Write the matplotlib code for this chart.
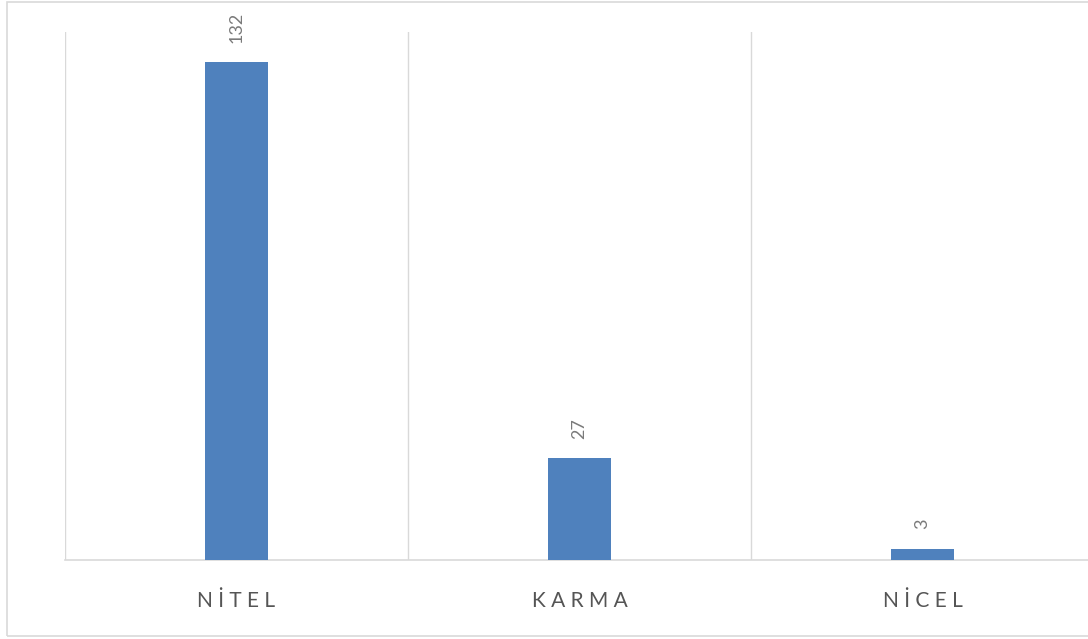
import matplotlib.pyplot as plt
import numpy as np
from matplotlib.patches import Rectangle

categories = ['NİTEL', 'KARMA', 'NİCEL']
counts = [132, 27, 3]

plt.rcParams['font.family'] = ['Lato', 'DejaVu Sans']

fig = plt.figure(figsize=(10.88, 6.39), dpi=100)
# light frame around the chart area (right edge runs off the image)
fig.patches.append(Rectangle((7 / 1088, 3 / 639), 1.2, 634 / 639, transform=fig.transFigure,
                             fill=False, edgecolor='#d9d9d9', linewidth=1.2))

ax = fig.add_axes([65 / 1088, 79 / 639, 1029 / 1088, 528 / 639])
x = np.arange(len(categories))
bars = ax.bar(x, counts, width=0.184, color='#4f81bd', zorder=3)

for b, v in zip(bars, counts):
    ax.annotate(str(v), (b.get_x() + b.get_width() / 2, v), xytext=(0, 14),
                textcoords='offset points', rotation=90, ha='center', va='bottom',
                fontsize=13, color='#7a7a7a')

ax.set_xlim(-0.5, 2.5)
ax.set_ylim(0, 140)
ax.set_yticks([])
ax.set_xticks(x)
spaced = [' '.join(c) for c in categories]
ax.set_xticklabels(spaced, fontsize=15, color='#555555')
ax.tick_params(axis='x', length=0, pad=22)
ax.set_xticks(np.arange(-0.5, 3, 1), minor=True)
ax.tick_params(axis='x', which='minor', length=0)
ax.grid(True, which='minor', axis='x', color='#d9d9d9', linewidth=1)
for s in ['top', 'right', 'left']:
    ax.spines[s].set_visible(False)
ax.spines['bottom'].set_color('#d9d9d9')
ax.spines['bottom'].set_linewidth(1.2)

fig.savefig('out.png', dpi=100)
